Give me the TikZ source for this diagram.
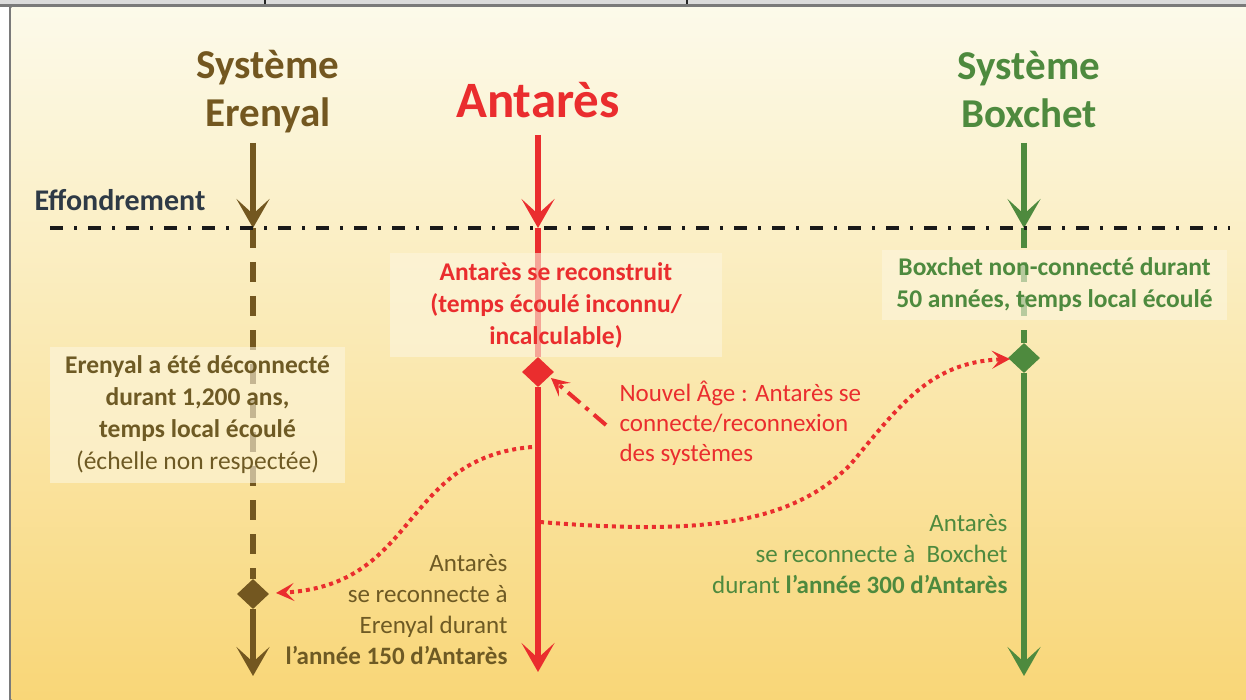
\documentclass[tikz,border=0pt]{standalone}
\usepackage{fontspec}
\setmainfont{Carlito}
\usetikzlibrary{arrows.meta,shapes.geometric}
\definecolor{ebrown}{HTML}{735720}
\definecolor{tbrown}{HTML}{6E5A24}
\definecolor{ared}{HTML}{EA2D2E}
\definecolor{bgreen}{HTML}{4E8A3E}
\definecolor{effc}{HTML}{2E3A46}
\definecolor{boxc}{HTML}{FDF6DE}
\definecolor{bgtop}{HTML}{FCFAEA}
\definecolor{bgmid}{HTML}{FAE9B2}
\definecolor{bgbot}{HTML}{F9D677}
\tikzset{
  vline/.style={line width=6pt},
  bigtip/.style={-{Stealth[length=29pt,width=33pt,inset=15pt]}},
  smalltip/.style={-{Stealth[length=18pt,width=18pt,inset=8pt]}},
  dotline/.style={ared,line width=4pt,dash pattern=on 4pt off 4pt},
  dmd/.style={diamond,minimum width=32pt,minimum height=30pt,inner sep=0pt,draw=none},
  lbox/.style={fill=boxc,fill opacity=0.6,text opacity=1,inner sep=0pt,align=center,font=\fontsize{25.5}{32}\selectfont\bfseries},
  head/.style={align=center,font=\fontsize{41}{48}\selectfont\bfseries},
  ntext/.style={font=\fontsize{25}{31}\selectfont},
}
\begin{document}
\begin{tikzpicture}[x=1pt,y=-1pt]
\useasboundingbox (0,0) rectangle (1246,700);
% frame
\fill[white] (0,0) rectangle (1246,700);
\fill[black!14] (0,0) rectangle (1246,4.5);
\fill[black!52] (0,4.5) rectangle (1246,7.5);
\fill[black!52] (9,4.5) rectangle (11.5,700);
\shade[top color=bgtop,bottom color=bgbot,middle color=bgmid] (11.5,7.5) rectangle (1246,700);
\draw[black!85,line width=1.5pt] (265,0) -- (265,4.5) (687,0) -- (687,4.5);

% headers
\node[head,text=ebrown] (eh) at (268,92) {Système\\Erenyal};
\node[font=\fontsize{51}{60}\selectfont\bfseries,text=ared] (ah) at (538,100) {Antarès};
\node[head,text=bgreen] (gh) at (1029,89) {Système\\Boxchet};
\node[font=\fontsize{30}{36}\selectfont\bfseries,text=effc] (eff) at (120,200) {Effondrement};

% coordinates
\coordinate (etop) at (253,143);
\coordinate (ex) at (253,228);
\coordinate (atop) at (538,135);
\coordinate (ax) at (538,228);
\coordinate (gtop) at (1024,143);
\coordinate (gx) at (1024,228);
\coordinate (ebot) at (253,676);
\coordinate (abot) at (538,672);
\coordinate (gbot) at (1024,676);
\node[dmd,fill=ebrown] (ed) at (253,594) {};
\node[dmd,fill=ared] (ad) at (538,372) {};
\node[dmd,fill=bgreen] (gd) at (1024,358) {};

% Erenyal
\draw[vline,ebrown,bigtip] (etop) -- (ex);
\draw[vline,ebrown,dash pattern=on 20pt off 14pt] (ex) -- (ed);
\draw[vline,ebrown,bigtip] (ed) -- (ebot);
% Antares
\draw[vline,ared,bigtip] (atop) -- (ax);
\draw[vline,ared] (ax) -- (ad);
\draw[vline,ared,bigtip] (ad) -- (abot);
% Boxchet
\draw[vline,bgreen,bigtip] (gtop) -- (gx);
\draw[vline,bgreen,dash pattern=on 20pt off 14pt] (gx) -- (gd);
\draw[vline,bgreen,bigtip] (gd) -- (gbot);

% collapse line
\coordinate (cl) at (50,228);
\coordinate (cr) at (1230,228);
\draw[black!90,line width=4pt,dash pattern=on 13pt off 11pt on 3pt off 11pt] (cl) -- (cr);

% label boxes
\node[lbox,text=tbrown,minimum width=295pt,minimum height=136pt] (ebox) at (197.5,415)
  {Erenyal a été déconnecté\\durant 1,200 ans,\\temps local écoulé\\\mdseries(échelle non respectée)};
\node[lbox,text=ared,minimum width=332pt,minimum height=104pt] (abox) at (556,305)
  {Antarès se reconstruit\\(temps écoulé inconnu/\\incalculable)};
\node[lbox,text=bgreen,minimum width=345pt,minimum height=70pt] (gbox) at (1054.5,285)
  {Boxchet non-connecté durant\\50 années, temps local écoulé};

% texts
\node[ntext,anchor=west,align=left,text=ared,font=\fontsize{25}{30}\selectfont] (na) at (616,423)
  {Nouvel Âge : Antarès se\\connecte/reconnexion\\des systèmes};
\node[ntext,anchor=east,align=right,text=tbrown] (eb) at (511,610)
  {Antarès\\se reconnecte à\\Erenyal durant\\\textbf{l’année 150 d’Antarès}};
\node[ntext,anchor=east,align=right,text=bgreen] (gb) at (1011,554)
  {Antarès\\se reconnecte à\ \ Boxchet\\durant \textbf{l’année 300 d’Antarès}};

% connectors
\coordinate (r1) at (532,447);
\coordinate (r2) at (540,522);
\coordinate (nas) at (606,425);
\coordinate (ein) at (276,593);
\coordinate (gin) at (1010,359);
\coordinate (ain) at (551,378);
\draw[dotline,smalltip] (r1) .. controls (400,458) and (420,585) .. (ein);
\draw[dotline,smalltip] (r2) .. controls (700,535) and (790,525) .. (850,465)
   .. controls (900,405) and (930,362) .. (gin);
\draw[ared,line width=4pt,dash pattern=on 16pt off 7pt on 4pt off 7pt,smalltip] (nas) -- (ain);
\end{tikzpicture}
\end{document}
